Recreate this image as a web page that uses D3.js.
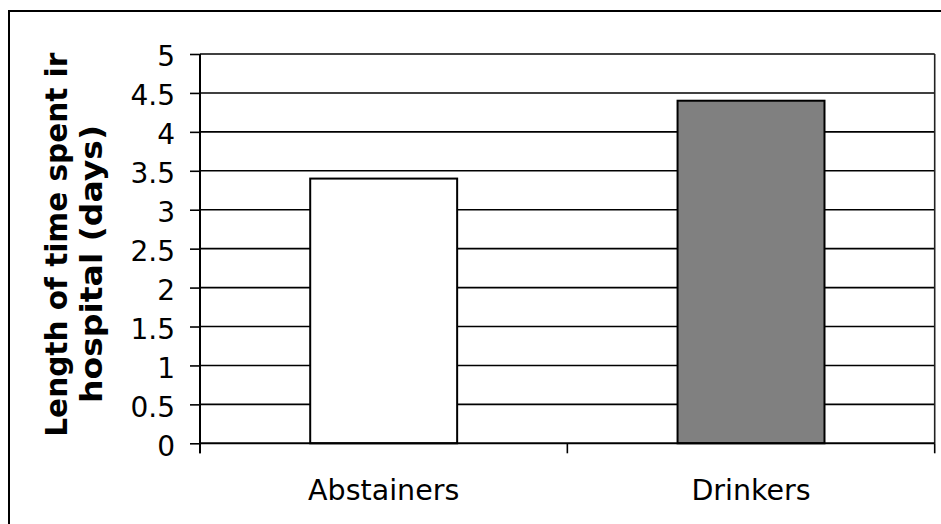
<!DOCTYPE html>
<html>
<head>
<meta charset="utf-8">
<script src="https://cdn.jsdelivr.net/npm/d3@7"></script>
<style>
  html, body { margin: 0; padding: 0; background: #fff; }
  svg { display: block; }
</style>
</head>
<body>
<svg id="chart" width="941" height="524"></svg>
<script>
const categories = ["Abstainers", "Drinkers"];
const values = [3.4, 4.4];
const barColors = ["#ffffff", "#808080"];
const yTicks = [0, 0.5, 1, 1.5, 2, 2.5, 3, 3.5, 4, 4.5, 5];
const yTitleLines = ["Length of time spent ir", "hospital (days)"];

(function () {
const svg = d3.select("#chart");
const pLeft = 200, pRight = 934.7, pTop = 54, pBottom = 443.3;

// outer border (extends beyond window right/bottom)
svg.append("rect")
  .attr("x", 9).attr("y", 11).attr("width", 1000).attr("height", 1000)
  .attr("fill", "none").attr("stroke", "#000").attr("stroke-width", 2);

const x = d3.scaleBand().domain(categories).range([pLeft, pRight])
  .paddingInner(0.6).paddingOuter(0.3);
const y = d3.scaleLinear().domain([0, 5]).range([pBottom, pTop]);

// gridlines
svg.append("g").selectAll("line").data(yTicks.filter(d => d > 0)).join("line")
  .attr("x1", pLeft).attr("x2", pRight)
  .attr("y1", d => y(d)).attr("y2", d => y(d))
  .attr("stroke", "#000").attr("stroke-width", 1.6);

// right border of plot area
svg.append("line").attr("x1", pRight).attr("x2", pRight)
  .attr("y1", pTop).attr("y2", pBottom)
  .attr("stroke", "#222").attr("stroke-width", 1.6);

// bars
svg.append("g").selectAll("rect").data(categories).join("rect")
  .attr("x", d => x(d))
  .attr("width", x.bandwidth())
  .attr("y", (d, i) => y(values[i]))
  .attr("height", (d, i) => y(0) - y(values[i]))
  .attr("fill", (d, i) => barColors[i])
  .attr("stroke", "#000").attr("stroke-width", 2);

// y axis
const yAxis = d3.axisLeft(y).tickValues(yTicks).tickSize(10).tickPadding(15)
  .tickFormat(d => String(d));
const gy = svg.append("g").attr("transform", `translate(${pLeft},0)`).call(yAxis);
gy.select(".domain").remove();
gy.selectAll(".tick line").attr("stroke", "#000").attr("stroke-width", 1.6);
gy.selectAll(".tick text")
  .attr("font-family", "'DejaVu Sans', Verdana, sans-serif")
  .attr("font-size", 28).attr("fill", "#000").attr("dy", "0.42em");
svg.append("line").attr("x1", pLeft).attr("x2", pLeft)
  .attr("y1", pTop).attr("y2", pBottom + 10)
  .attr("stroke", "#000").attr("stroke-width", 2);

// x axis
svg.append("line").attr("x1", pLeft).attr("x2", pRight)
  .attr("y1", pBottom).attr("y2", pBottom)
  .attr("stroke", "#000").attr("stroke-width", 2);
const bounds = [pLeft, (pLeft + pRight) / 2, pRight];
svg.append("g").selectAll("line").data(bounds).join("line")
  .attr("x1", d => d).attr("x2", d => d)
  .attr("y1", pBottom).attr("y2", pBottom + 10)
  .attr("stroke", "#000").attr("stroke-width", 1.6);
svg.append("g").selectAll("text").data(categories).join("text")
  .attr("x", d => x(d) + x.bandwidth() / 2)
  .attr("y", 500)
  .attr("text-anchor", "middle")
  .attr("font-family", "'DejaVu Sans', Verdana, sans-serif")
  .attr("font-size", 28.5).attr("fill", "#000")
  .text(d => d);

// y title
svg.append("text")
  .attr("transform", "translate(66.7,436.7) rotate(-90)")
  .attr("text-anchor", "start")
  .attr("font-family", "'DejaVu Sans', Verdana, sans-serif")
  .attr("font-weight", "bold").attr("font-size", 29.5)
  .attr("textLength", 384).attr("lengthAdjust", "spacingAndGlyphs")
  .text(yTitleLines[0]);
svg.append("text")
  .attr("transform", "translate(102,264) rotate(-90)")
  .attr("text-anchor", "middle")
  .attr("font-family", "'DejaVu Sans', Verdana, sans-serif")
  .attr("font-weight", "bold").attr("font-size", 29.5)
  .attr("textLength", 278).attr("lengthAdjust", "spacingAndGlyphs")
  .text(yTitleLines[1]);
})();
</script>
</body>
</html>
